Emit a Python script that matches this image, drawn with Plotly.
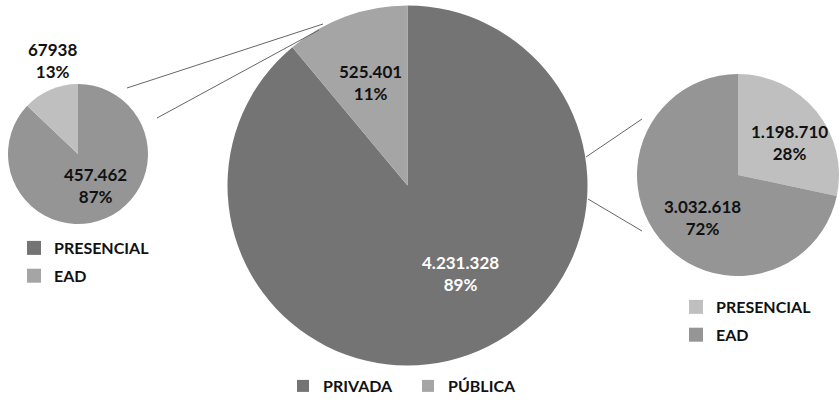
import math
import plotly.graph_objects as go

# ---- data ----
main_labels = ["PRIVADA", "PÚBLICA"]
main_values = [4231328, 525401]
main_text = ["4.231.328", "525.401"]

left_labels = ["PRESENCIAL", "EAD"]
left_values = [457462, 67938]
left_text = ["457.462", "67938"]

right_labels = ["PRESENCIAL", "EAD"]
right_values = [1198710, 3032618]
right_text = ["1.198.710", "3.032.618"]

# ---- styling ----
W, H = 839, 403
FONT = "Lato"
C_DARK, C_MID, C_LIGHT, C_PALE = "#747474", "#a5a5a5", "#959595", "#bfbfbf"
main_colors = [C_DARK, C_MID]
left_colors = [C_LIGHT, C_PALE]
right_colors = [C_PALE, C_LIGHT]

# pie geometry in pixels: centre x, centre y (from top), radius
geo = {
    "main": (407.5, 185.5, 180),
    "left": (78, 154, 70),
    "right": (738, 175, 101),
}


def domain(cx, cy, r):
    return dict(x=[(cx - r) / W, (cx + r) / W],
                y=[(H - cy - r) / H, (H - cy + r) / H])


def pct(vals):
    tot = sum(vals)
    return [v / tot for v in vals]


fig = go.Figure()

for key, labels, values, colors, lg in [
    ("main", main_labels, main_values, main_colors, "legend"),
    ("left", left_labels, left_values, left_colors, "legend2"),
    ("right", right_labels, right_values, right_colors, "legend3"),
]:
    fig.add_trace(go.Pie(
        labels=labels, values=values, sort=False, direction="clockwise",
        rotation=0, domain=domain(*geo[key]), textinfo="none",
        hoverinfo="skip", marker=dict(colors=colors, line=dict(width=0)),
        showlegend=(key == "main"), legend=lg,
    ))

# legend entries for the side pies (one group per entry so they can be spaced)
for lg, labels, colors in [
    ("legend2", left_labels, main_colors),
    ("legend3", right_labels, right_colors),
]:
    for lab, col in zip(labels, colors):
        fig.add_trace(go.Scatter(
            x=[None], y=[None], mode="markers", name=lab, legend=lg,
            legendgroup=lg + lab, hoverinfo="skip",
            marker=dict(symbol="square", size=14, color=col,
                        line=dict(width=0)),
        ))

# value / percentage labels placed along each slice's bisector
label_style = {
    "main": [(-11, 0.57, "white"), (0, 0.61, "#111")],
    "left": [(-6, 0.51, "#111"), (8, 1.39, "#111")],
    "right": [(7, 0.6, "#111"), (-11, 0.55, "#111")],
}
annotations = []
for key, values, texts in [
    ("main", main_values, main_text),
    ("left", left_values, left_text),
    ("right", right_values, right_text),
]:
    cx, cy, r = geo[key]
    start = 0.0
    for i, (p, t) in enumerate(zip(pct(values), texts)):
        mid = (start + p / 2) * 360
        start += p
        dang, frac, col = label_style[key][i]
        th = math.radians(mid + dang)
        px = cx + r * frac * math.sin(th)
        py = cy - r * frac * math.cos(th)
        annotations.append(dict(
            x=px / W, y=(H - py) / H, xref="paper", yref="paper",
            text=f"{t}<br>{round(p * 100)}%", showarrow=False,
            font=dict(family=FONT, size=17, color=col, weight="bold"),
            xanchor="center", yanchor="middle",
        ))

# connector lines between the pies
line_style = dict(color="#666666", width=1)
connectors = [
    (127, 88, 323, 24),
    (157, 118, 319, 30),
    (586, 157, 642, 119),
    (588, 199, 642, 231),
]
shapes = [dict(type="line", xref="paper", yref="paper",
               x0=x0 / W, y0=(H - y0) / H, x1=x1 / W, y1=(H - y1) / H,
               line=line_style) for x0, y0, x1, y1 in connectors]

legend_font = dict(family=FONT, size=16, color="#111", weight="bold")
fig.update_layout(
    width=W, height=H, margin=dict(l=0, r=0, t=0, b=0),
    paper_bgcolor="white", plot_bgcolor="white",
    xaxis=dict(visible=False), yaxis=dict(visible=False),
    annotations=annotations, shapes=shapes,
    legend=dict(orientation="h", x=283 / W, y=(H - 386) / H,
                xanchor="left", yanchor="middle", font=legend_font,
                entrywidth=80, bgcolor="rgba(0,0,0,0)"),
    legend2=dict(orientation="v", x=14 / W, y=(H - 231) / H,
                 xanchor="left", yanchor="top", font=legend_font,
                 tracegroupgap=4, bgcolor="rgba(0,0,0,0)"),
    legend3=dict(orientation="v", x=676 / W, y=(H - 290) / H,
                 xanchor="left", yanchor="top", font=legend_font,
                 tracegroupgap=4, bgcolor="rgba(0,0,0,0)"),
)

fig.write_html("out.html")
